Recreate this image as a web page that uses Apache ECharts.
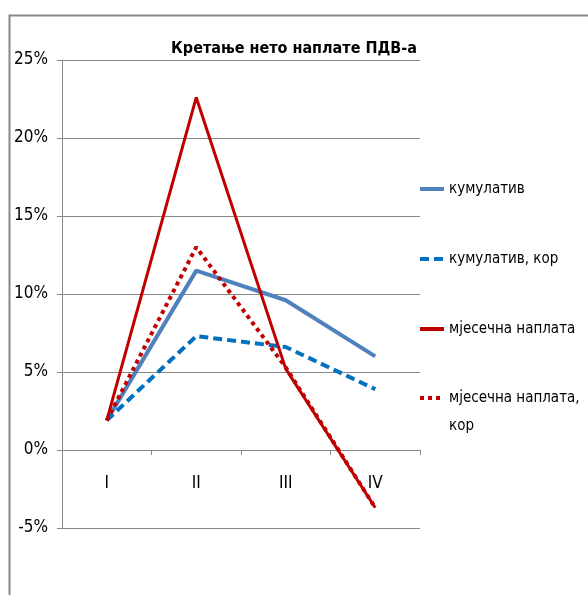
<!DOCTYPE html>
<html>
<head>
<meta charset="utf-8">
<script src="https://cdn.jsdelivr.net/npm/echarts@6/dist/echarts.min.js"></script>
<style>html,body{margin:0;padding:0;background:#fff;}#c{width:588px;height:595px;}</style>
</head>
<body>
<div id="c"></div>
<script>
var categories = ['I', 'II', 'III', 'IV'];
var cumulative = [1.9, 11.5, 9.6, 6.0];
var cumulativeCor = [1.9, 7.3, 6.6, 3.9];
var monthly = [1.9, 22.6, 5.2, -3.7];
var monthlyCor = [1.9, 13.0, 5.3, -3.7];
var seriesNames = ['кумулатив', 'кумулатив, кор', 'мјесечна наплата', 'мјесечна наплата, кор'];
var titleText = 'Кретање нето наплате ПДВ-а';

var FONT = '"Liberation Sans Narrow", "DejaVu Sans Condensed", "Liberation Sans", sans-serif';
var chart = echarts.init(document.getElementById('c'));
chart.setOption({
  backgroundColor: '#fff',
  animation: false,
  graphic: [{
    type: 'rect', left: 7, top: 13, silent: true,
    shape: { width: 620, height: 620 },
    style: { fill: 'none', stroke: '#888', lineWidth: 2 }
  }],
  title: {
    text: titleText, left: 'center', top: 36,
    textStyle: { fontFamily: FONT, fontWeight: 'bold', fontSize: 16, color: '#000' }
  },
  legend: [{
    orient: 'vertical', left: 418, top: 179, itemGap: 50, padding: 0,
    itemWidth: 24, itemHeight: 14,
    data: seriesNames.slice(0, 3),
    itemStyle: { color: 'rgba(0,0,0,0)', borderWidth: 0, opacity: 0 },
    lineStyle: { width: 4 },
    textStyle: { fontFamily: FONT, fontSize: 15, color: '#000', lineHeight: 20 }
  }, {
    orient: 'vertical', left: 418, top: 356, padding: 0,
    itemWidth: 24, itemHeight: 14,
    data: [seriesNames[3]],
    itemStyle: { color: 'rgba(0,0,0,0)', borderWidth: 0, opacity: 0 },
    lineStyle: { width: 4 },
    formatter: function (n) { return ' \nмјесечна наплата,\nкор'; },
    textStyle: { fontFamily: FONT, fontSize: 15, color: '#000', lineHeight: 28 }
  }],
  grid: { left: 62, right: 168, top: 60, bottom: 67, containLabel: false },
  xAxis: {
    type: 'category', data: categories, boundaryGap: true,
    position: 'bottom', offset: -78,
    axisLine: { onZero: false, lineStyle: { color: '#888', width: 1 } },
    axisTick: { show: true, length: 5, inside: false, lineStyle: { color: '#888' } },
    axisLabel: { margin: 25, fontFamily: FONT, fontSize: 17, color: '#000' },
    splitLine: { show: false }
  },
  yAxis: {
    type: 'value', min: -5, max: 25, interval: 5,
    axisLine: { show: true, lineStyle: { color: '#888', width: 1 } },
    axisTick: { show: true, length: 5, lineStyle: { color: '#888' } },
    axisLabel: { margin: 14, formatter: '{value}%', fontFamily: FONT, fontSize: 17, color: '#000' },
    splitLine: { show: true, lineStyle: { color: '#888', width: 1 } }
  },
  series: [{
    name: seriesNames[0], type: 'line', data: cumulative, symbol: 'none', z: 2,
    lineStyle: { color: '#4F81BD', width: 4 }, itemStyle: { color: '#4F81BD' }
  }, {
    name: seriesNames[1], type: 'line', data: cumulativeCor, symbol: 'none', z: 2,
    lineStyle: { color: '#0070C0', width: 4, type: [9, 5] }, itemStyle: { color: '#0070C0' }
  }, {
    name: seriesNames[2], type: 'line', data: monthly, symbol: 'none', z: 4,
    lineStyle: { color: '#C00000', width: 3 }, itemStyle: { color: '#C00000' }
  }, {
    name: seriesNames[3], type: 'line', data: monthlyCor, symbol: 'none', z: 3,
    lineStyle: { color: '#C00000', width: 4, type: [4, 4] }, itemStyle: { color: '#C00000' }
  }]
});
</script>
</body>
</html>
